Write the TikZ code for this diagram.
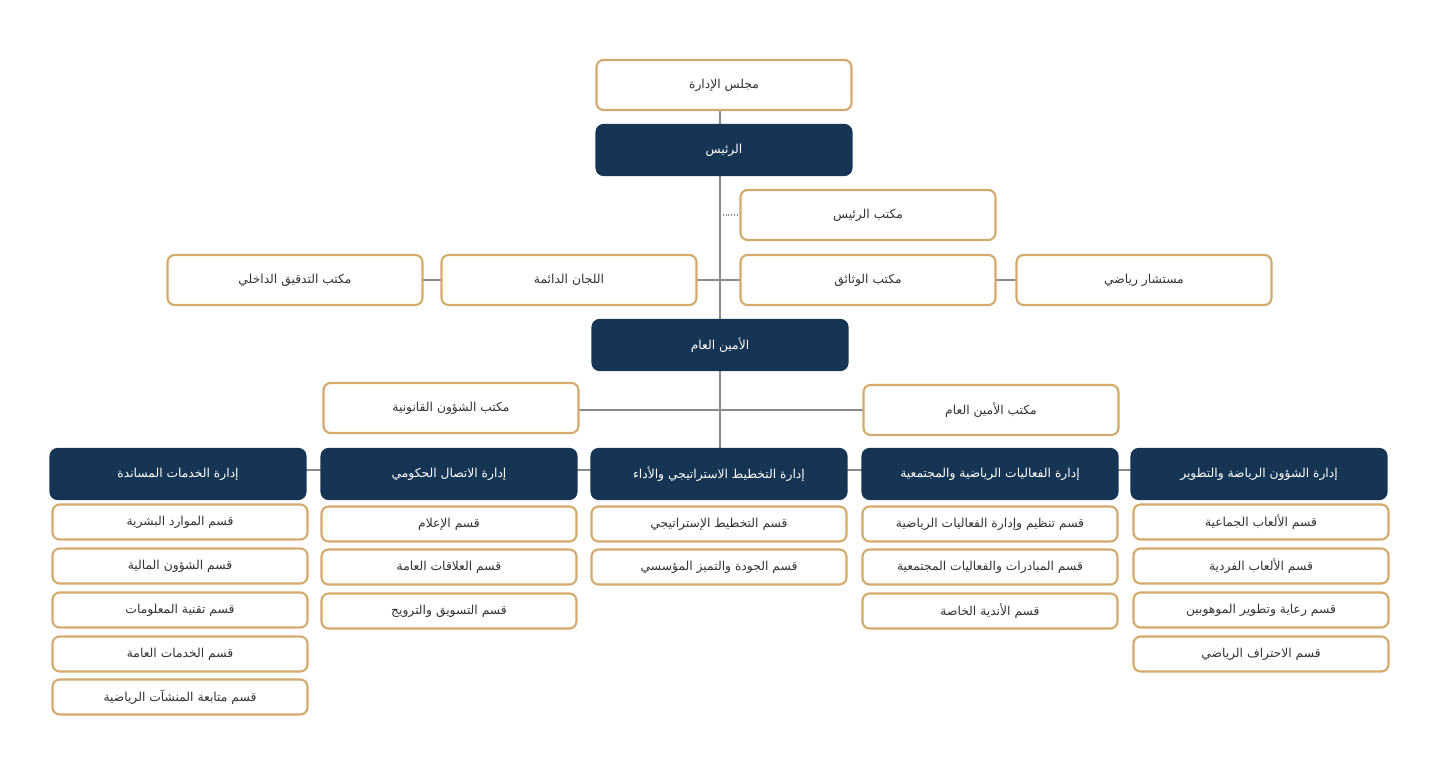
\documentclass[tikz,border=0pt]{standalone}
\usepackage{fontspec}
\newfontfamily\arabicfont[Script=Arabic]{DejaVu Sans}
\TeXXeTstate=1
\newcommand{\artext}[1]{\beginR #1\endR}
\definecolor{navy}{HTML}{163454}
\definecolor{gold}{HTML}{D4AA6C}
\definecolor{linegray}{HTML}{8A8A8A}
\tikzset{
  unit/.style={draw=gold, line width=1.2pt, fill=white, rounded corners=4pt,
    minimum width=5.1cm, minimum height=1cm, font=\arabicfont\fontsize{7}{8}\selectfont, text=black!80},
  sub/.style={unit, minimum height=0.7cm},
  head/.style={unit, draw=navy, fill=navy, text=white},
  link/.style={linegray, line width=0.6pt}
}
\begin{document}
\begin{tikzpicture}[x=0.02cm, y=-0.02cm]
  \useasboundingbox (0,0) rectangle (1440,776);

  % lines behind the boxes
  \draw[link] (720,85) -- (720,474);
  \draw[link, densely dotted] (720,215) -- (740,215);
  \draw[link] (423,280) -- (1016,280);
  \draw[link] (579,410) -- (863,410);
  \draw[link] (178,470) -- (1259,470);

  % top
  \node[unit] (board) at (724,85) {\artext{مجلس الإدارة}};
  \node[head] (pres) at (724,150) {\artext{الرئيس}};
  \node[unit] (presoff) at (868,215) {\artext{مكتب الرئيس}};
  \node[unit] (docs) at (868,280) {\artext{مكتب الوثائق}};
  \node[unit] (advisor) at (1144,280) {\artext{مستشار رياضي}};
  \node[unit] (committees) at (569,280) {\artext{اللجان الدائمة}};
  \node[unit] (audit) at (295,280) {\artext{مكتب التدقيق الداخلي}};
  \node[head] (secgen) at (720,345) {\artext{الأمين العام}};
  \node[unit] (legal) at (451,408) {\artext{مكتب الشؤون القانونية}};
  \node[unit] (secoff) at (991,410) {\artext{مكتب الأمين العام}};

  % departments
  \node[head] (support) at (178,474) {\artext{إدارة الخدمات المساندة}};
  \node[head] (comm) at (449,474) {\artext{إدارة الاتصال الحكومي}};
  \node[head] (plan) at (719,474) {\artext{إدارة التخطيط الاستراتيجي والأداء}};
  \node[head] (events) at (990,474) {\artext{إدارة الفعاليات الرياضية والمجتمعية}};
  \node[head] (sport) at (1259,474) {\artext{إدارة الشؤون الرياضة والتطوير}};

  % sections
  \foreach \y/\t in {522/قسم الموارد البشرية, 566/قسم الشؤون المالية, 610/قسم تقنية المعلومات,
      654/قسم الخدمات العامة, 697/قسم متابعة المنشآت الرياضية}
    \node[sub] at (180,\y) {\artext{\t}};
  \foreach \y/\t in {524/قسم الإعلام, 567/قسم العلاقات العامة, 611/قسم التسويق والترويج}
    \node[sub] at (449,\y) {\artext{\t}};
  \foreach \y/\t in {524/قسم التخطيط الإستراتيجي, 567/قسم الجودة والتميز المؤسسي}
    \node[sub] at (719,\y) {\artext{\t}};
  \foreach \y/\t in {524/قسم تنظيم وإدارة الفعاليات الرياضية, 567/قسم المبادرات والفعاليات المجتمعية, 611/قسم الأندية الخاصة}
    \node[sub] at (990,\y) {\artext{\t}};
  \foreach \y/\t in {522/قسم الألعاب الجماعية, 566/قسم الألعاب الفردية, 610/قسم رعاية وتطوير الموهوبين, 654/قسم الاحتراف الرياضي}
    \node[sub] at (1261,\y) {\artext{\t}};
\end{tikzpicture}
\end{document}
